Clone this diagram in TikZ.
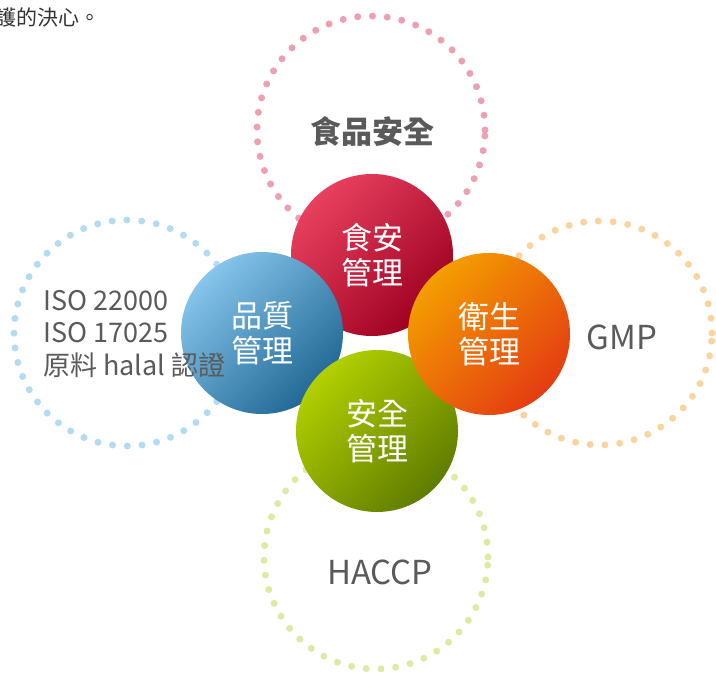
\documentclass[tikz,border=0pt]{standalone}
\usepackage{fontspec}
\setmainfont{Noto Sans CJK TC}
\usepackage{tikz}

\definecolor{labelgray}{HTML}{5A5A5A}
\definecolor{pinkdot}{HTML}{EDA0B2}
\definecolor{bluedot}{HTML}{B3DBF1}
\definecolor{orangedot}{HTML}{FAD49E}
\definecolor{greendot}{HTML}{DFE9A3}
\definecolor{lightred}{HTML}{E8405F}
\definecolor{midred}{HTML}{E0003A}
\definecolor{darkred}{HTML}{9E0020}
\definecolor{lightblue}{HTML}{86C5EC}
\definecolor{midblue}{HTML}{389CD7}
\definecolor{darkblue}{HTML}{1F6793}
\definecolor{lightgreen}{HTML}{B2D000}
\definecolor{midgreen}{HTML}{92B200}
\definecolor{darkgreen}{HTML}{607C00}
\definecolor{lightorange}{HTML}{F49E00}
\definecolor{midorange}{HTML}{EF7D00}
\definecolor{darkorange}{HTML}{E43C12}

\tikzset{
  ring/.style={circle, draw=#1, line width=7pt, line cap=round,
    dash pattern=on 0pt off 14.8pt, inner sep=0pt},
  ball/.style={circle, minimum size=162pt, inner sep=0pt, text=white,
    align=center, font=\fontsize{31}{35}\selectfont},
  ringtext/.style={text=labelgray, font=\fontsize{33}{38}\selectfont}
}

\begin{document}
\begin{tikzpicture}[x=1pt,y=-1pt]
    \useasboundingbox (0,0) rectangle (716,675);
    \node[anchor=west, inner sep=0pt, text=black!80, font=\fontsize{21}{23}\selectfont] (intro) at (-5,17) {護的決心。};
    % dotted rings
    \node[ring=pinkdot, minimum size=228pt] (foodring) at (371,130) {};
    \node[ring=bluedot, minimum size=226pt] (qualring) at (127,333) {};
    \node[ring=orangedot, minimum size=224pt] (hygring) at (600,333) {};
    \node[ring=greendot, minimum size=224pt] (safering) at (376,557) {};
    \node[ringtext, font=\fontsize{31}{35}\selectfont\bfseries] (foodtext) at (372,132) {食品安全};
    \node[ringtext] (hygtext) at (622,337) {GMP};
    \node[ringtext] (safetext) at (380,572) {HACCP};
    % management balls
    \node[ball, top color=lightred, middle color=midred, bottom color=darkred, shading angle=45] (food) at (372,255) {食安\\管理};
    \node[ball, top color=lightblue, middle color=midblue, bottom color=darkblue, shading angle=45] (qual) at (262,333) {品質\\管理};
    \node[ball, top color=lightgreen, middle color=midgreen, bottom color=darkgreen, shading angle=45] (safe) at (377,431) {安全\\管理};
    \node[ball, top color=lightorange, middle color=midorange, bottom color=darkorange, shading angle=45] (hyg) at (489,334) {衛生\\管理};
    %\node[ringtext] (qualtext) at (qualring) {};
    \node[ringtext, anchor=west, inner sep=0pt, align=left, font=\fontsize{27}{32.5}\selectfont] (qualtext) at (43,334) {ISO 22000\\ISO 17025\\原料 halal 認證};
\end{tikzpicture}
\end{document}
